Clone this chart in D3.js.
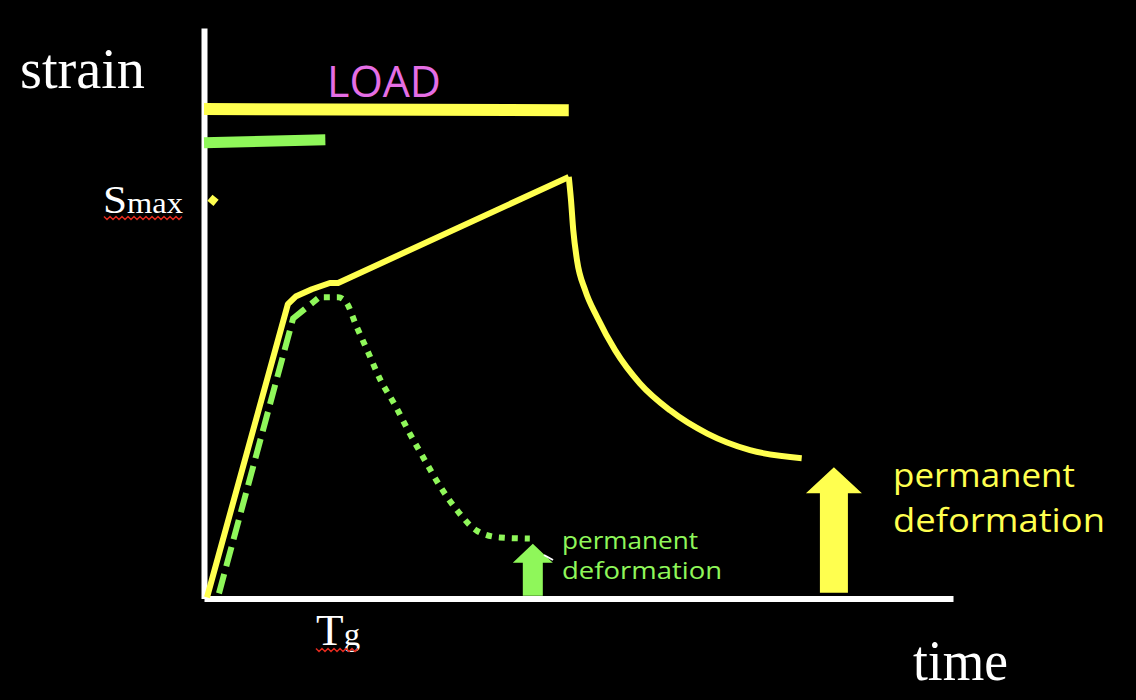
<!DOCTYPE html>
<html>
<head>
<meta charset="utf-8">
<script src="https://cdn.jsdelivr.net/npm/d3@7"></script>
<style>
html,body{margin:0;padding:0;background:#000;}
svg{display:block;}
</style>
</head>
<body>
<svg id="chart" width="1136" height="700"></svg>
<script>
// ---- data (time units 0-100, strain units 0-100) ----
const creepTime   = [0.4, 11.2, 12.3, 14.4, 16.8, 17.9, 48.7];
const creepStrain = [0.2, 51.6, 53.0, 54.2, 55.3, 55.3, 73.9];
const recovTime   = [48.7, 49.0, 49.3, 49.8, 50.9, 52.5, 54.9, 58.2, 62.2, 67.2, 72.9, 79.8];
const recovStrain = [73.9, 69.8, 64.6, 59.3, 54.0, 49.3, 43.5, 37.7, 33.0, 28.9, 26.0, 24.6];
const greenLoadTime   = [2.0, 11.9, 15.2];
const greenLoadStrain = [0.9, 49.1, 52.6];
const greenRecovTime   = [16.0, 17.9, 19.0, 20.3, 21.9, 23.6, 25.5, 27.4, 29.5, 31.6, 34.0, 36.4, 39.5, 43.5];
const greenRecovStrain = [52.8, 52.8, 51.9, 47.9, 43.2, 38.2, 33.9, 29.1, 24.2, 19.5, 15.1, 11.9, 10.7, 10.5];
const loadBarTime   = [0, 48.7];
const loadBarStrain = [85.8, 85.6];
const greenBarTime   = [0, 16.2];
const greenBarStrain = [79.9, 80.4];
const smaxMarker = [1.2, 69.8];
const greenArrow  = [43.9, 0.5, 9.6];   // time, base strain, tip strain
const yellowArrow = [84.1, 1.0, 23.0];
const tickLabelsY = ["Smax"];
const tickValuesY = [69.8];
const tickLabelsX = ["Tg"];
const tickValuesX = [17.9];

const YELLOW = "#ffff4f", GREEN = "#8ff75a", PINK = "#e56ee5";
const svg = d3.select("#chart");
svg.append("rect").attr("width",1136).attr("height",700).attr("fill","#000");

const x = d3.scaleLinear().domain([0,100]).range([204,953]);
const y = d3.scaleLinear().domain([0,100]).range([598.5,28]);

// axes
const gx = svg.append("g").attr("transform",`translate(0,${y(0)})`)
  .call(d3.axisBottom(x).tickValues([]).tickSizeOuter(0));
const gy = svg.append("g").attr("transform",`translate(${x(0)},0)`)
  .call(d3.axisLeft(y).tickValues([]).tickSizeOuter(0));
[gx,gy].forEach(g=>g.select(".domain").attr("stroke","#fff").attr("stroke-width",6));

const zip = (a,b)=>a.map((v,i)=>[v,b[i]]);
const line = d3.line().x(d=>x(d[0])).y(d=>y(d[1]));
const smooth = d3.line().x(d=>x(d[0])).y(d=>y(d[1])).curve(d3.curveMonotoneX);

// load bars
svg.append("path").attr("d",line(zip(loadBarTime,loadBarStrain)))
  .attr("stroke",YELLOW).attr("stroke-width",12).attr("fill","none");
svg.append("path").attr("d",line(zip(greenBarTime,greenBarStrain)))
  .attr("stroke",GREEN).attr("stroke-width",11).attr("fill","none");

// green curves
svg.append("path").attr("d",line(zip(greenLoadTime,greenLoadStrain)))
  .attr("stroke",GREEN).attr("stroke-width",6).attr("fill","none")
  .attr("stroke-dasharray","20 8");
svg.append("path").attr("d",smooth(zip(greenRecovTime,greenRecovStrain)))
  .attr("stroke",GREEN).attr("stroke-width",6).attr("fill","none")
  .attr("stroke-dasharray","6 7");

// yellow curves
svg.append("path").attr("d",line(zip(creepTime,creepStrain)))
  .attr("stroke",YELLOW).attr("stroke-width",6).attr("fill","none")
  .attr("stroke-linejoin","round");
svg.append("path").attr("d",smooth(zip(recovTime,recovStrain)))
  .attr("stroke",YELLOW).attr("stroke-width",6).attr("fill","none");

// Smax marker
svg.append("rect").attr("x",-4).attr("y",-4).attr("width",8).attr("height",8)
  .attr("fill",YELLOW)
  .attr("transform",`translate(${x(smaxMarker[0])},${y(smaxMarker[1])}) rotate(40)`);

// arrows
function arrow(a, shaftHW, headHW, headLen, color){
  const cx = x(a[0]), yb = y(a[1]), yt = y(a[2]);
  const p = d3.path();
  p.moveTo(cx-shaftHW,yb); p.lineTo(cx-shaftHW,yt+headLen); p.lineTo(cx-headHW,yt+headLen);
  p.lineTo(cx,yt); p.lineTo(cx+headHW,yt+headLen); p.lineTo(cx+shaftHW,yt+headLen);
  p.lineTo(cx+shaftHW,yb); p.closePath();
  svg.append("path").attr("d",p.toString()).attr("fill",color);
}
arrow(greenArrow,10,20,19,GREEN);
arrow(yellowArrow,14,28,26,YELLOW);
svg.append("line").attr("x1",544).attr("y1",555).attr("x2",553).attr("y2",560)
  .attr("stroke","#fff").attr("stroke-width",2);

// texts
const serif = "'Liberation Serif','Times New Roman',serif";
const comic = "'Comic Sans MS','Open Sans',sans-serif";
svg.append("text").attr("x",20).attr("y",88).attr("font-family",serif).attr("font-size",56)
  .attr("fill","#fff").attr("textLength",125).attr("lengthAdjust","spacingAndGlyphs").text("strain");
svg.append("text").attr("x",913).attr("y",680).attr("font-family",serif).attr("font-size",56)
  .attr("fill","#fff").attr("textLength",95).attr("lengthAdjust","spacingAndGlyphs").text("time");
svg.append("text").attr("x",327).attr("y",97).attr("font-family",comic).attr("font-size",44)
  .attr("fill",PINK).attr("textLength",114).attr("lengthAdjust","spacingAndGlyphs").text("LOAD");

// Smax tick label
const sm = svg.append("text").attr("x",103).attr("y",y(tickValuesY[0])+13)
  .attr("font-family",serif).attr("fill","#fff")
  .attr("textLength",80).attr("lengthAdjust","spacingAndGlyphs");
sm.append("tspan").attr("font-size",40).text(tickLabelsY[0][0]);
sm.append("tspan").attr("font-size",30).text(tickLabelsY[0].slice(1));
// Tg tick label
const tg = svg.append("text").attr("x",x(tickValuesX[0])-22).attr("y",645)
  .attr("font-family",serif).attr("fill","#fff")
  .attr("textLength",44).attr("lengthAdjust","spacingAndGlyphs");
tg.append("tspan").attr("font-size",44).text(tickLabelsX[0][0]);
tg.append("tspan").attr("font-size",32).text(tickLabelsX[0].slice(1));

// spell-check squiggles
function squiggle(x0,x1,yy){
  const pts=[]; let up=true;
  for(let xx=x0; xx<=x1; xx+=3){ pts.push([xx, up?yy-1.5:yy+1.5]); up=!up; }
  svg.append("path").attr("d",d3.line()(pts)).attr("stroke","#e02a1e").attr("stroke-width",1.5).attr("fill","none");
}
squiggle(104,183,218);
squiggle(316,360,650);

// permanent deformation labels
function label(x0,yb,size,lens,color){
  ["permanent","deformation"].forEach((t,i)=>{
    svg.append("text").attr("x",x0).attr("y",yb[i]).attr("font-family",comic)
      .attr("font-size",size).attr("fill",color)
      .attr("textLength",lens[i]).attr("lengthAdjust","spacingAndGlyphs").text(t);
  });
}
label(562,[549,579],23,[136,160],GREEN);
label(893,[487,532],33,[182,212],YELLOW);
</script>
</body>
</html>
